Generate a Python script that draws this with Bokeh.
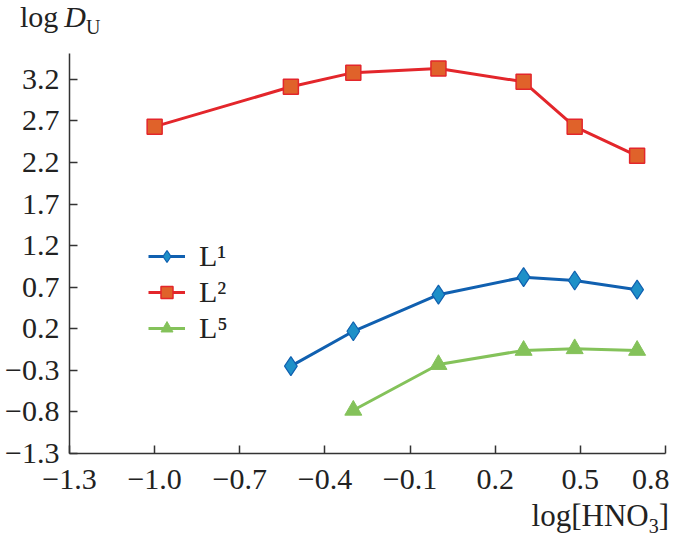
from bokeh.plotting import figure
from bokeh.models import Range1d, FixedTicker, CustomJSTickFormatter, Legend, LegendItem, Div
from bokeh.layouts import column
from bokeh.embed import file_html
from bokeh.resources import INLINE

# data
x_L2 = [-1.0, -0.52, -0.30, 0.0, 0.30, 0.48, 0.70]
y_L2 = [2.63, 3.11, 3.28, 3.33, 3.17, 2.63, 2.28]
x_L1 = [-0.52, -0.30, 0.0, 0.30, 0.48, 0.70]
y_L1 = [-0.25, 0.17, 0.61, 0.82, 0.78, 0.67]
x_L5 = [-0.30, 0.0, 0.30, 0.48, 0.70]
y_L5 = [-0.78, -0.23, -0.06, -0.04, -0.06]
x_ticks = [-1.3, -1.0, -0.7, -0.4, -0.1, 0.2, 0.5, 0.8]
y_ticks = [-1.3, -0.8, -0.3, 0.2, 0.7, 1.2, 1.7, 2.2, 2.7, 3.2]

FONT = "Liberation Serif"

p = figure(width=669, height=454, output_backend="svg", toolbar_location=None,
           x_range=Range1d(-1.3, 0.8), y_range=Range1d(-1.3, 3.51),
           min_border_left=69, min_border_right=4, min_border_top=8, min_border_bottom=46,
           margin=0)
p.outline_line_color = None
p.xgrid.visible = False
p.ygrid.visible = False

fmt = CustomJSTickFormatter(code="return (tick < -1e-9 ? '\u2212' : '') + Math.abs(tick).toFixed(1);")
for ax, ticks in ((p.xaxis[0], x_ticks), (p.yaxis[0], y_ticks)):
    ax.ticker = FixedTicker(ticks=ticks)
    ax.formatter = fmt
    ax.major_tick_in = 8
    ax.major_tick_out = 0
    ax.minor_tick_line_color = None
    ax.axis_line_color = "#333333"
    ax.axis_line_width = 1.5
    ax.major_tick_line_color = "#333333"
    ax.major_tick_line_width = 1.5
    ax.major_label_text_font = FONT
    ax.major_label_text_font_size = "30px"
    ax.major_label_text_color = "#222222"
p.xaxis.major_label_standoff = 16
p.yaxis.major_label_standoff = 10

r_l1 = p.line(x_L1, y_L1, line_color="#1060b0", line_width=3)
m_l1 = p.scatter(x_L1, y_L1, marker="diamond", size=19, fill_color="#1e90c8", line_color="#1060b0", line_width=1.2)
r_l2 = p.line(x_L2, y_L2, line_color="#e3262b", line_width=3)
m_l2 = p.scatter(x_L2, y_L2, marker="square", size=15, fill_color="#e0622a", line_color="#e3262b", line_width=1.5)
r_l5 = p.line(x_L5, y_L5, line_color="#84c25a", line_width=3)
m_l5 = p.scatter(x_L5, y_L5, marker="triangle", size=17, fill_color="#84c25a", line_color="#84c25a", line_width=1)

legend = Legend(items=[
    LegendItem(label="L\u00b9", renderers=[r_l1, m_l1]),
    LegendItem(label="L\u00b2", renderers=[r_l2, m_l2]),
    LegendItem(label="L\u2075", renderers=[r_l5, m_l5]),
], location=(79, 108))
legend.border_line_color = None
legend.background_fill_alpha = 0
legend.label_text_font = FONT
legend.label_text_font_size = "30px"
legend.label_text_color = "#222222"
legend.glyph_width = 37
legend.glyph_height = 30
legend.spacing = 2
legend.padding = 0
legend.margin = 0
legend.label_standoff = 14
p.add_layout(legend, "center")

top = Div(text="log\u2009<i>D</i><sub style='font-size:20px'>U</sub>", width=669, height=45, margin=0,
          styles={"font-family": FONT, "font-size": "30px", "color": "#222222",
                  "padding-left": "20px", "line-height": "34px"})
bottom = Div(text="log[HNO<sub style='font-size:20px'>3</sub>]", width=669, height=40, margin=0,
             styles={"font-family": FONT, "font-size": "31px", "color": "#222222",
                     "text-align": "right", "line-height": "34px"})

layout = column(top, p, bottom, spacing=0, margin=0)
open("out.html", "w").write(file_html(layout, INLINE))
